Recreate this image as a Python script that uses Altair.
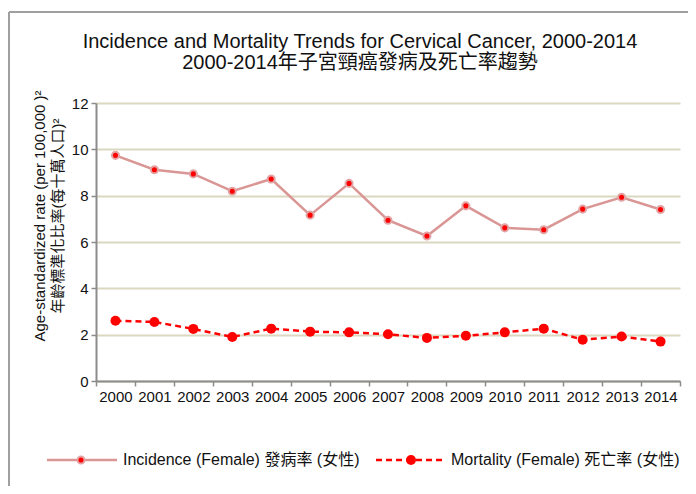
import altair as alt
import pandas as pd

years = ["2000", "2001", "2002", "2003", "2004", "2005", "2006", "2007",
         "2008", "2009", "2010", "2011", "2012", "2013", "2014"]
incidence = [9.74, 9.12, 8.94, 8.19, 8.72, 7.16, 8.53, 6.94, 6.26, 7.56, 6.61, 6.53, 7.42, 7.93, 7.40]
mortality = [2.60, 2.55, 2.25, 1.90, 2.26, 2.13, 2.10, 2.02, 1.86, 1.95, 2.10, 2.26, 1.78, 1.92, 1.70]
y_ticks = [0, 2, 4, 6, 8, 10, 12]

title_lines = ["Incidence and Mortality Trends for Cervical Cancer, 2000-2014",
               "2000-2014年子宮頸癌發病及死亡率趨勢"]
y_title_lines = ["Age-standardized rate (per 100,000 )²", "年齡標準化比率(每十萬人口)²"]
legend_labels = ["Incidence (Female) 發病率 (女性)", "Mortality (Female) 死亡率 (女性)"]

FONT = "Liberation Sans, Arial, Noto Sans CJK TC"
INC_COLOR = "#d99694"
MORT_COLOR = "#ff0000"
GRID = "#dcd8c0"
AXISC = "#8c8c8c"

df = pd.DataFrame({"year": years, "incidence": incidence, "mortality": mortality})
one = pd.DataFrame({"k": [0]})

x_enc = alt.X("year:N", bandPosition=0.5,
              scale=alt.Scale(type="band", paddingInner=0, paddingOuter=0),
              axis=alt.Axis(title=None, labelAngle=0, tickBand="extent", grid=False,
                            domainColor=AXISC, domainWidth=2, tickColor=AXISC, tickWidth=1.5,
                            tickSize=5, labelFontSize=15, labelColor="#111111", labelPadding=3,
                            labelFont=FONT))
y_scale = alt.Scale(domain=[0, 12], nice=False)
y_axis = alt.Axis(title=None, values=y_ticks, grid=True, gridColor=GRID, gridWidth=2,
                  domainColor=AXISC, domainWidth=2, tickColor=AXISC, tickWidth=1.5, tickSize=5,
                  labelFontSize=15, labelColor="#111111", labelPadding=3, labelFont=FONT)

base = alt.Chart(df)
inc_line = base.mark_line(color=INC_COLOR, strokeWidth=2.5).encode(
    x=x_enc, y=alt.Y("incidence:Q", scale=y_scale, axis=y_axis))
inc_pts = base.mark_circle(color=MORT_COLOR, stroke="#e2a4a4", strokeWidth=2, size=50, opacity=1).encode(
    x=x_enc, y=alt.Y("incidence:Q", scale=y_scale, axis=y_axis))
mort_line = base.mark_line(color=MORT_COLOR, strokeWidth=2.5, strokeDash=[6, 4]).encode(
    x=x_enc, y=alt.Y("mortality:Q", scale=y_scale, axis=y_axis))
mort_pts = base.mark_circle(color=MORT_COLOR, size=100, opacity=1).encode(
    x=x_enc, y=alt.Y("mortality:Q", scale=y_scale, axis=y_axis))

dec = alt.Chart(one)

def txt(s, x, y, size, align="center", angle=0):
    return dec.mark_text(text=s, font=FONT, fontSize=size, color="#111111", align=align,
                         baseline="middle", angle=angle).encode(x=alt.value(x), y=alt.value(y))

title1 = txt(title_lines[0], 264, -61, 20)
title2 = txt(title_lines[1], 264, -40, 20)
yt1 = txt(y_title_lines[0], -56, 113, 15, angle=270)
yt2 = txt(y_title_lines[1], -38, 113, 15, angle=270)

# border
border_top = dec.mark_rule(color="#a0a0a0", strokeWidth=2).encode(
    x=alt.value(-87), x2=alt.value(592), y=alt.value(-91))
border_left = dec.mark_rule(color="#a0a0a0", strokeWidth=2).encode(
    x=alt.value(-87), y=alt.value(-91), y2=alt.value(383))

# legend
leg_y = 357
leg1_line = dec.mark_rule(color=INC_COLOR, strokeWidth=2.5).encode(
    x=alt.value(-49), x2=alt.value(21), y=alt.value(leg_y))
leg1_pt = dec.mark_circle(color=MORT_COLOR, stroke="#e2a4a4", strokeWidth=2, size=50, opacity=1).encode(
    x=alt.value(-15), y=alt.value(leg_y))
leg1_txt = txt(legend_labels[0], 27, leg_y, 16, align="left")
leg2_line = dec.mark_rule(color=MORT_COLOR, strokeWidth=2.5, strokeDash=[6, 4]).encode(
    x=alt.value(280), x2=alt.value(346), y=alt.value(leg_y))
leg2_pt = dec.mark_circle(color=MORT_COLOR, size=100, opacity=1).encode(
    x=alt.value(315), y=alt.value(leg_y))
leg2_txt = txt(legend_labels[1], 355, leg_y, 16, align="left")

chart = alt.layer(
    inc_line, inc_pts, mort_line, mort_pts,
    title1, title2, yt1, yt2, border_top, border_left,
    leg1_line, leg1_pt, leg1_txt, leg2_line, leg2_pt, leg2_txt
).properties(
    width=584, height=278,
    autosize=alt.AutoSizeParams(type="none"),
    padding={"left": 88, "top": 95, "right": 8, "bottom": 105},
    background="white"
).configure_view(stroke=None)

chart.save("out.html", embed_options={"renderer": "svg", "actions": False})
